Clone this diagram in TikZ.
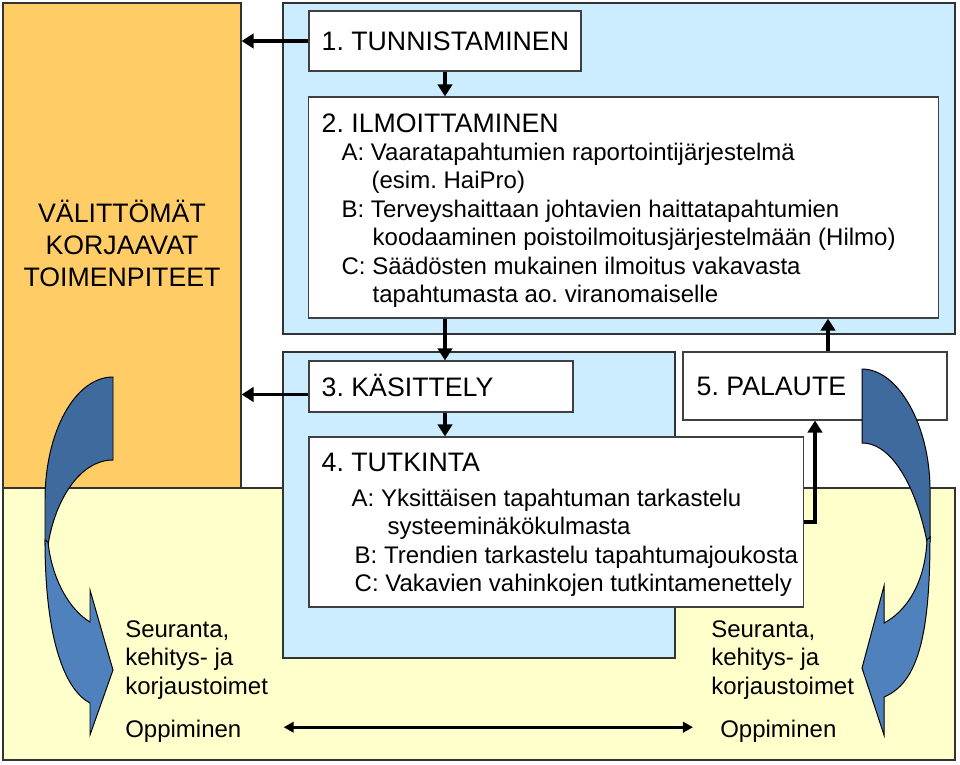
\documentclass[tikz,border=0pt]{standalone}
\usepackage{fontspec}
\setmainfont{Liberation Sans}
\usetikzlibrary{arrows.meta}
\frenchspacing

\definecolor{orangebg}{HTML}{FFCC66}
\definecolor{yellowbg}{HTML}{FFFFCC}
\definecolor{bluebg}{HTML}{CCECFF}
\definecolor{arrowdark}{HTML}{3F6A9E}
\definecolor{arrowlight}{HTML}{4F81BD}

\newcommand{\stagehead}[1]{{\fontsize{19}{22.8}\selectfont #1}}

\begin{document}
\begin{tikzpicture}[x=0.025cm, y=-0.025cm]
		\tikzstyle {area} = [draw=black!80, line width=0.8pt]
		\tikzstyle {stage} = [draw=black!75, fill=white, line width=0.8pt, inner sep=0pt]
		\tikzstyle {head} = [inner sep=0pt, anchor=west, font=\fontsize{19}{22.8}\selectfont, text height=13.6pt, text depth=0pt]
		\tikzstyle {body} = [inner sep=0pt, align=left, anchor=west, font=\fontsize{17.07}{20.2}\selectfont]
		\tikzstyle {flow} = [line width=2.8pt, -{Triangle[length=0.3cm, width=0.36cm]}]
		\tikzstyle {learn} = [line width=2pt, {Triangle[length=0.25cm, width=0.26cm]}-{Triangle[length=0.25cm, width=0.26cm]}]
		\tikzstyle {bend back} = [draw=black, line width=0.7pt, fill=arrowdark]
		\tikzstyle {bend front} = [draw=black, line width=0.7pt, fill=arrowlight]

		\useasboundingbox (0,0) rectangle (960,764);

		% background areas
		\node[area, fill=orangebg, minimum width=5.95cm, minimum height=12.125cm, inner sep=0pt] (imm) at (122,245.5) {};
		\draw[area, fill=yellowbg] (3,488) rectangle (955,760);
		\draw[area, fill=bluebg] (283,3) rectangle (955,334);
		\draw[area, fill=bluebg] (283,352) rectangle (675,658);

		% stages
		\node[stage, minimum width=6.8cm, minimum height=1.5cm] (tun) at (445,41) {};
		\node[stage, minimum width=15.725cm, minimum height=5.525cm] (ilm) at (623.5,207.5) {};
		\node[stage, minimum width=6.6cm, minimum height=1.275cm] (kas) at (441,386.5) {};
		\node[stage, minimum width=12.35cm, minimum height=4.25cm] (tut) at (556,522) {};
		\node[stage, minimum width=6.6cm, minimum height=1.7cm] (pal) at (815,386) {};

		\draw[flow] (tun.west) -- (tun.west -| imm.east);
		\draw[flow] (tun.south) -- (tun.south |- ilm.north);
		\draw[flow] (tun.south |- ilm.south) -- (tun.south |- kas.north);
		\draw[flow] ([yshift=-0.2cm]kas.west) -- ([yshift=-0.2cm]kas.west -| imm.east);
		\draw[flow] (tun.south |- kas.south) -- (tun.south |- tut.north);
		\draw[flow] (tut.east) -| (pal.south);
		\draw[flow] ([xshift=0.325cm]pal.north) -- ([xshift=0.325cm]pal.north |- ilm.south);

		% curved arrows
		\filldraw[bend back] (113,377) .. controls (75,377) and (45,432) .. (45,500) -- (45,545) -- (48,545) .. controls (55,500) and (80,460) .. (113,460) -- cycle;
		\filldraw[bend front] (48,542) .. controls (52,580) and (70,610) .. (90,622) -- (90,590) -- (113,670) -- (90,735) -- (90,703) .. controls (65,690) and (45,640) .. (45,540) -- cycle;

		\filldraw[bend back] (862,369) .. controls (898,369) and (930,425) .. (930,490) -- (930,542) -- (927,542) .. controls (918,495) and (895,443) .. (862,443) -- cycle;
		\filldraw[bend front] (927,540) .. controls (925,585) and (905,612) .. (884,623) -- (884,586) -- (862,668) -- (884,735) -- (884,697) .. controls (918,683) and (930,635) .. (930,537) -- cycle;

		% texts
		\node[inner sep=0pt, align=center, font=\fontsize{19}{22.76}\selectfont, yshift=0.05cm] (immtxt) at (imm.center) {VÄLITTÖMÄT\\KORJAAVAT\\TOIMENPITEET};

		\node[head] (tuntxt) at ([xshift=0.325cm]tun.west) {1. TUNNISTAMINEN};
		\node[body, yshift=-0.075cm] (ilmtxt) at ([xshift=0.325cm]ilm.west) {\stagehead{2. ILMOITTAMINEN}\\
			\hspace*{0.5cm}A: Vaaratapahtumien raportointijärjestelmä\\
			\hspace*{1.25cm}(esim. HaiPro)\\
			\hspace*{0.5cm}B: Terveyshaittaan johtavien haittatapahtumien\\
			\hspace*{1.275cm}koodaaminen poistoilmoitusjärjestelmään (Hilmo)\\
			\hspace*{0.5cm}C: Säädösten mukainen ilmoitus vakavasta\\
			\hspace*{1.275cm}tapahtumasta ao. viranomaiselle};
		\node[head] (kastxt) at ([xshift=0.325cm]kas.west) {3. KÄSITTELY};
		\node[body, yshift=-0.075cm] (tuttxt) at ([xshift=0.325cm]tut.west) {\stagehead{4. TUTKINTA}\\[4.5pt]
			\hspace*{0.75cm}A: Yksittäisen tapahtuman tarkastelu\\
			\hspace*{1.65cm}systeeminäkökulmasta\\
			\hspace*{0.825cm}B: Trendien tarkastelu tapahtumajoukosta\\
			\hspace*{0.825cm}C: Vakavien vahinkojen tutkintamenettely};
		\node[head] (paltxt) at ([xshift=0.35cm]pal.west) {5. PALAUTE};

		\node[body, anchor=north west] (followl) at (125,620.5) {Seuranta,\\kehitys- ja\\korjaustoimet};
		\node[body, anchor=north west] (followr) at (711,620.5) {Seuranta,\\kehitys- ja\\korjaustoimet};
		\node[body, anchor=base west] (learnl) at (125,737) {Oppiminen};
		\node[body, anchor=base west] (learnr) at (720,737) {Oppiminen};
		\draw[learn] ([shift={(1.05cm,0.09cm)}]learnl.east) -- ([shift={(-0.675cm,0.09cm)}]learnr.west);
\end{tikzpicture}
\end{document}
